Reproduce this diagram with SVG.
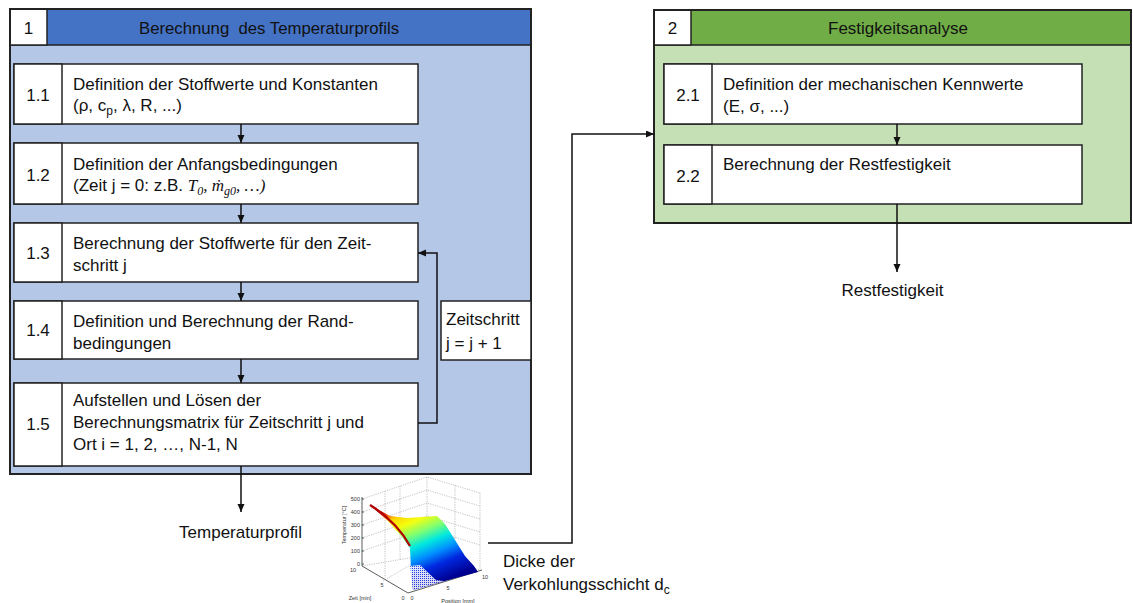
<svg xmlns="http://www.w3.org/2000/svg" width="1133" height="603" viewBox="0 0 1133 603">
<defs>
<style>
text{font-family:"Liberation Sans",Arial,sans-serif;font-size:17px;fill:#111}
.num{text-anchor:middle}
.box{fill:#fff;stroke:#222;stroke-width:1.5}
.outer{fill:none;stroke:#222;stroke-width:2}
.con{fill:none;stroke:#111;stroke-width:1.5}
.math{font-family:"Liberation Serif","DejaVu Serif",serif;font-style:italic}
.tick{font-size:5.5px;fill:#333}
.grid{fill:none;stroke:#999;stroke-width:0.6;stroke-dasharray:1.2 1.2}
.ax{fill:none;stroke:#333;stroke-width:0.8}
</style>
<marker id="arr" markerWidth="9" markerHeight="8" refX="8" refY="3.5" orient="auto" markerUnits="userSpaceOnUse">
<path d="M0,0 L8,3.5 L0,7 z" fill="#111"/>
</marker>
<linearGradient id="jet" gradientUnits="userSpaceOnUse" x1="398" y1="505" x2="432" y2="586">
<stop offset="0" stop-color="#c00000"/>
<stop offset="0.05" stop-color="#ff4000"/>
<stop offset="0.12" stop-color="#ffd000"/>
<stop offset="0.24" stop-color="#f4ff10"/>
<stop offset="0.38" stop-color="#80ff70"/>
<stop offset="0.52" stop-color="#00e8e0"/>
<stop offset="0.66" stop-color="#0090ff"/>
<stop offset="0.8" stop-color="#0028e0"/>
<stop offset="1" stop-color="#000090"/>
</linearGradient>
<pattern id="dots" width="2" height="2" patternUnits="userSpaceOnUse">
<rect width="2" height="2" fill="#ffffff"/>
<rect width="1" height="1" fill="#3040e0"/>
</pattern>
</defs>

<g id="node-1">
<rect x="10" y="9" width="521" height="36" fill="#4472C4"/>
<rect x="10" y="45" width="521" height="429" fill="#B4C7E7"/>
<line x1="10" y1="45" x2="531" y2="45" stroke="#222" stroke-width="1.5"/>
<rect class="box" x="10" y="9" width="37" height="36"/>
<rect class="outer" x="10" y="9" width="521" height="465"/>
<text class="num" x="28.5" y="34">1</text>
<text x="139" y="34" xml:space="preserve" textLength="260" lengthAdjust="spacingAndGlyphs">Berechnung  des Temperaturprofils</text>
</g>

<g id="node-1-1">
<rect class="box" x="14" y="64" width="404" height="60"/>
<rect class="box" x="14" y="64" width="48" height="60"/>
<text class="num" x="38" y="101">1.1</text>
<text x="73" y="90">Definition der Stoffwerte und Konstanten</text>
<text x="73" y="111">(ρ, c<tspan font-size="12" dy="4">p</tspan><tspan dy="-4">, λ, R, ...)</tspan></text>
</g>

<g id="node-1-2">
<rect class="box" x="14" y="143" width="404" height="61"/>
<rect class="box" x="14" y="143" width="48" height="61"/>
<text class="num" x="38" y="181">1.2</text>
<text x="73" y="170">Definition der Anfangsbedingungen</text>
<text x="73" y="191">(Zeit j = 0: z.B. <tspan class="math">T</tspan><tspan class="math" font-size="12" font-style="normal" dy="4">0</tspan><tspan dy="-4" class="math" font-style="normal">, </tspan><tspan class="math">ṁ</tspan><tspan class="math" font-size="12" dy="4">g</tspan><tspan class="math" font-size="12" font-style="normal">0</tspan><tspan dy="-4" class="math" font-style="normal">, …)</tspan></text>
</g>

<g id="node-1-3">
<rect class="box" x="14" y="223" width="404" height="59"/>
<rect class="box" x="14" y="223" width="48" height="59"/>
<text class="num" x="38" y="259">1.3</text>
<text x="73" y="249">Berechnung der Stoffwerte für den Zeit-</text>
<text x="73" y="271">schritt j</text>
</g>

<g id="node-1-4">
<rect class="box" x="14" y="301" width="404" height="58"/>
<rect class="box" x="14" y="301" width="48" height="58"/>
<text class="num" x="38" y="336">1.4</text>
<text x="73" y="327">Definition und Berechnung der Rand-</text>
<text x="73" y="349">bedingungen</text>
</g>

<g id="node-1-5">
<rect class="box" x="14" y="383" width="404" height="83"/>
<rect class="box" x="14" y="383" width="48" height="83"/>
<text class="num" x="38" y="430">1.5</text>
<text x="73" y="406">Aufstellen und Lösen der</text>
<text x="73" y="428">Berechnungsmatrix für Zeitschritt j und</text>
<text x="73" y="450">Ort i = 1, 2, …, N-1, N</text>
</g>

<g id="node-zeitschritt">
<rect class="box" x="441" y="301" width="90" height="59"/>
<text x="446" y="325">Zeitschritt</text>
<text x="446" y="349">j = j + 1</text>
</g>

<g id="node-2">
<rect x="654" y="10" width="477" height="35" fill="#70AD47"/>
<rect x="654" y="45" width="477" height="178" fill="#C5E0B4"/>
<line x1="654" y1="45" x2="1131" y2="45" stroke="#222" stroke-width="1.5"/>
<rect class="box" x="654" y="10" width="37" height="35"/>
<rect class="outer" x="654" y="10" width="477" height="213"/>
<text class="num" x="672.5" y="34">2</text>
<text x="828" y="34">Festigkeitsanalyse</text>
</g>

<g id="node-2-1">
<rect class="box" x="664" y="64" width="418" height="60"/>
<rect class="box" x="664" y="64" width="48" height="60"/>
<text class="num" x="688" y="101">2.1</text>
<text x="723" y="90">Definition der mechanischen Kennwerte</text>
<text x="723" y="112">(E, σ, ...)</text>
</g>

<g id="node-2-2">
<rect class="box" x="664" y="145" width="418" height="59"/>
<rect class="box" x="664" y="145" width="48" height="59"/>
<text class="num" x="688" y="182">2.2</text>
<text x="723" y="170">Berechnung der Restfestigkeit</text>
</g>

<g id="label-temperaturprofil">
<text x="240.5" y="538" text-anchor="middle">Temperaturprofil</text>
</g>
<g id="label-restfestigkeit">
<text x="892.5" y="296" text-anchor="middle">Restfestigkeit</text>
</g>
<g id="label-dicke">
<text x="503" y="567">Dicke der</text>
<text x="503" y="590">Verkohlungsschicht d<tspan font-size="12" dy="4">c</tspan></text>
</g>

<g id="plot">
<path class="grid" d="M362,499 L427,477 L480,493 M427,477 V555 M427,555 L362,566 M427,555 L480,570 M362,512 L427,490 L480,506 M362,525 L427,503 L480,519 M362,538 L427,516 L480,532 M362,551 L427,529 L480,545 M385,491 V578 M400,486 V560 M455,485 V578 M480,493 V570 M444,581 L427,555 M383,581 L427,555"/>
<path class="ax" d="M362,497 V566 L408,593 L482,570"/>
<path class="ax" d="M362,499 h2 M362,512 h2 M362,525 h2 M362,538 h2 M362,551 h2 M362,564 h2"/>
<polygon fill="url(#jet)" points="370,505 390,516 407,518 437,516 445,524 455,540 465,556 474,566 478,572 445,581 413,590 411,570 410,548 402,537 388,521"/>
<polygon fill="url(#dots)" opacity="0.85" points="410,566 420,565 436,580 444,581 413,590"/>
<path d="M370,505 Q397,522 410,546" fill="none" stroke="#b00000" stroke-width="2.2"/>
<text class="tick" x="360" y="501" text-anchor="end">500</text>
<text class="tick" x="360" y="514" text-anchor="end">400</text>
<text class="tick" x="360" y="527" text-anchor="end">300</text>
<text class="tick" x="360" y="540" text-anchor="end">200</text>
<text class="tick" x="360" y="553" text-anchor="end">100</text>
<text class="tick" x="360" y="566" text-anchor="end">0</text>
<text class="tick" x="353" y="572" text-anchor="middle">10</text>
<text class="tick" x="382" y="587" text-anchor="middle">5</text>
<text class="tick" x="403" y="600" text-anchor="middle">0</text>
<text class="tick" x="412" y="600" text-anchor="middle">0</text>
<text class="tick" x="448" y="590" text-anchor="middle">5</text>
<text class="tick" x="485" y="579" text-anchor="middle">10</text>
<text class="tick" x="360" y="600" text-anchor="middle">Zeit [min]</text>
<text class="tick" x="458" y="603" text-anchor="middle">Position [mm]</text>
<text class="tick" x="346" y="525" text-anchor="middle" transform="rotate(-90 346 525)">Temperatur [°C]</text>
</g>

<g id="connectors">
<line class="con" x1="241" y1="124" x2="241" y2="143" marker-end="url(#arr)"/>
<line class="con" x1="241" y1="204" x2="241" y2="223" marker-end="url(#arr)"/>
<line class="con" x1="241" y1="282" x2="241" y2="301" marker-end="url(#arr)"/>
<line class="con" x1="241" y1="359" x2="241" y2="383" marker-end="url(#arr)"/>
<line class="con" x1="241" y1="466" x2="241" y2="512" marker-end="url(#arr)"/>
<path class="con" d="M418,423 H437 V253 H418" marker-end="url(#arr)"/>
<line class="con" x1="897" y1="124" x2="897" y2="145" marker-end="url(#arr)"/>
<line class="con" x1="897" y1="204" x2="897" y2="272" marker-end="url(#arr)"/>
<path class="con" d="M488,543 H572 V134 H654" marker-end="url(#arr)"/>
</g>
</svg>
